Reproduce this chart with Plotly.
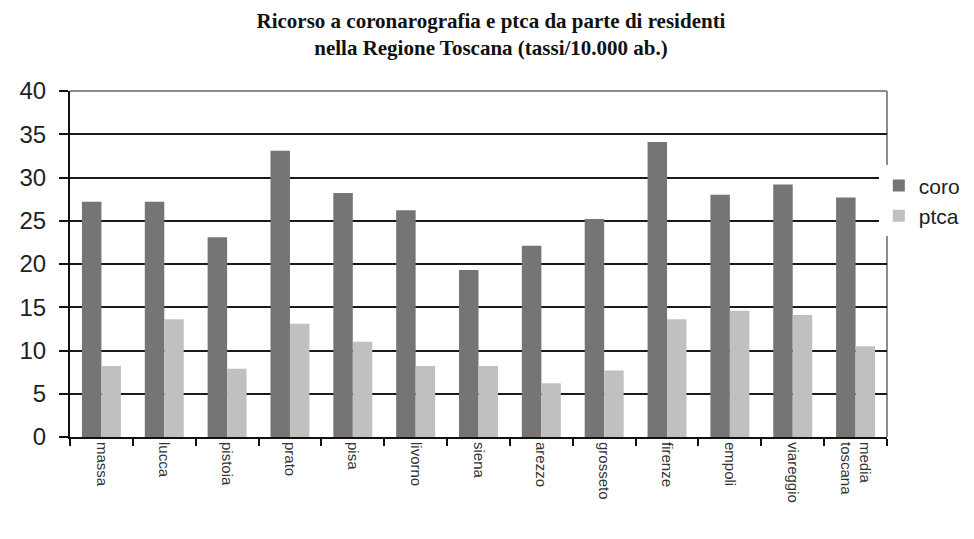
import plotly.graph_objects as go

# ---------------------------------------------------------------------------
# Dati: tassi per 10.000 abitanti
# ---------------------------------------------------------------------------
aree = ["massa", "lucca", "pistoia", "prato", "pisa", "livorno", "siena",
        "arezzo", "grosseto", "firenze", "empoli", "viareggio",
        "media<br>toscana"]
coro = [27.2, 27.2, 23.1, 33.1, 28.2, 26.2, 19.3, 22.1, 25.2, 34.1, 28.0, 29.2, 27.7]
ptca = [8.2, 13.6, 7.9, 13.1, 11.0, 8.2, 8.2, 6.2, 7.7, 13.6, 14.6, 14.1, 10.5]
y_ticks = [0, 5, 10, 15, 20, 25, 30, 35, 40]

fig = go.Figure()
fig.add_trace(go.Bar(x=aree, y=coro, name="coro", marker_color="#777574",
                     marker_line_width=0))
fig.add_trace(go.Bar(x=aree, y=ptca, name="ptca", marker_color="#c1c0bf",
                     marker_line_width=0))

# bordo superiore e destro grigio
fig.add_shape(type="line", xref="paper", yref="paper", x0=0, x1=1, y0=1, y1=1,
              line=dict(color="#8f8a88", width=2), layer="above")
fig.add_shape(type="line", xref="paper", yref="paper", x0=1, x1=1, y0=0, y1=1,
              line=dict(color="#8f8a88", width=2), layer="below")

# la pagina aggiunge 8px di margine al body: dimensioni compensate
fig.update_layout(
    title=dict(
        text="<b>Ricorso a coronarografia e ptca da parte di residenti<br>"
             "nella Regione Toscana (tassi/10.000 ab.)</b>",
        x=0.5, xanchor="center", y=0.963, yanchor="top",
        font=dict(family="Liberation Serif", size=21, color="#111"),
    ),
    barmode="group", bargap=0.38, bargroupgap=0,
    width=966, height=531,
    margin=dict(l=62, r=87, t=83, b=102, autoexpand=False),
    plot_bgcolor="white", paper_bgcolor="white",
    showlegend=True,
    legend=dict(x=0.99, xanchor="left", y=0.785, yanchor="top",
                bgcolor="white", font=dict(family="Liberation Sans", size=21, color="#222"),
                tracegroupgap=17, itemwidth=30),
    font=dict(family="Liberation Sans"),
)

fig.update_yaxes(
    range=[0, 40], tickvals=y_ticks, showgrid=True, gridcolor="#1a1a1a", gridwidth=2,
    showline=True, linecolor="#111", linewidth=2,
    ticks="outside", ticklen=9, tickcolor="#111", tickwidth=2,
    ticklabelstandoff=8,
    tickfont=dict(family="Liberation Sans", size=24, color="#222"),
    zeroline=False,
)
fig.update_xaxes(
    showline=True, linecolor="#111", linewidth=2,
    ticks="outside", tickson="boundaries", ticklen=7, tickcolor="#111", tickwidth=2,
    tickangle=90, tickfont=dict(family="Liberation Sans", size=15, color="#333"),
    showgrid=False,
)

fig.write_html("out.html")
